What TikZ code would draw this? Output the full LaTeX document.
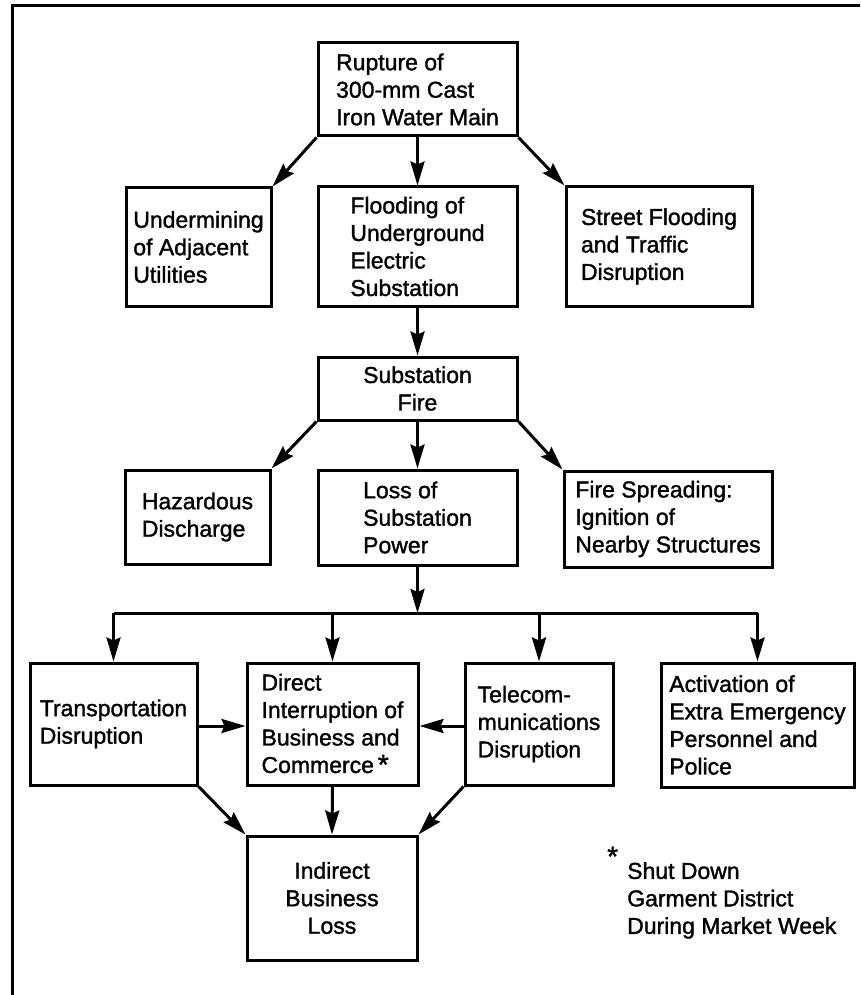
\documentclass[tikz,border=0pt]{standalone}
\usepackage{fontspec}
\setmainfont{Liberation Sans}[UprightFeatures={FakeBold=1.4}]
\usetikzlibrary{arrows.meta}
\begin{document}
\begin{tikzpicture}[x=1pt,y=-1pt,
  txt/.style={font=\fontsize{23}{27.5}\selectfont},
  box/.style={draw, line width=3pt, inner sep=0pt, align=left, txt},
  arr/.style={line width=3pt, -{Stealth[length=24pt,width=14pt,inset=3pt]}},
  ln/.style={line width=3pt},
  frame/.style={line width=3.4pt}]
\useasboundingbox (0,0) rectangle (860,995);
\draw[frame] (12.5,995) -- (12.5,5.5) -- (860,5.5);

% row 1
\node[box, minimum width=199pt, minimum height=93pt] (rup) at (417.5,89.5) {Rupture of\\300-mm Cast\\Iron Water Main};
% row 2
\node[box, minimum width=145pt, minimum height=118pt] (und) at (198.5,247) {Undermining\\of Adjacent\\Utilities};
\node[box, minimum width=199pt, minimum height=119pt] (flo) at (417.5,246.5) {Flooding of\\Underground\\Electric\\Substation};
\node[box, minimum width=186pt, minimum height=119pt] (str) at (659,246.5) {Street Flooding\\and Traffic\\Disruption};
% row 3
\node[box, align=center, minimum width=199pt, minimum height=63pt] (fire) at (417.5,388.5) {Substation\\Fire};
% row 4
\node[box, minimum width=145pt, minimum height=94pt] (haz) at (197.5,517) {Hazardous\\Discharge};
\node[box, minimum width=199pt, minimum height=95pt] (loss) at (417.5,517.5) {Loss of\\Substation\\Power};
\node[box, minimum width=208pt, minimum height=96pt] (spr) at (668,519) {Fire Spreading:\\Ignition of\\Nearby Structures};
% row 5
\node[box, minimum width=167pt, minimum height=122pt] (tra) at (113.5,724) {Transportation\\Disruption};
\node[box, minimum width=171pt, minimum height=122pt] (dir) at (332.5,724) {Direct\\Interruption of\\Business and\\Commerce\,\raisebox{-0.1ex}{\fontsize{28}{28}\selectfont *}};
\node[box, minimum width=148pt, minimum height=122pt] (tel) at (539,724) {Telecom-\\munications\\Disruption};
\node[box, minimum width=193pt, minimum height=124pt] (act) at (757.5,725) {Activation of\\Extra Emergency\\Personnel and\\Police};
% row 6
\node[box, align=center, minimum width=170pt, minimum height=124pt] (ind) at (332,898) {Indirect\\Business\\Loss};

% footnote
\node[anchor=base west, inner sep=0pt, font=\fontsize{28}{28}\selectfont] (star) at (607,866) {*};
\node[txt, anchor=north west, inner sep=0pt, align=left] (note) at (627,862) {Shut Down\\Garment District\\During Market Week};

% connectors
\draw[arr] (rup.south west) -- (und.north east);
\draw[arr] (rup.south) -- (flo.north);
\draw[arr] (rup.south east) -- (str.north west);
\draw[arr] (flo.south) -- (fire.north);
\draw[arr] (fire.south west) -- (haz.north east);
\draw[arr] (fire.south) -- (loss.north);
\draw[arr] (fire.south east) -- (spr.north west);

\coordinate (bus) at (417.5,613);
\draw[arr] (loss.south) -- (bus);
\draw[ln] (tra.north |- bus) -- (act.north |- bus);
\draw[arr] (tra.north |- bus) -- (tra.north);
\draw[arr] (dir.north |- bus) -- (dir.north);
\draw[arr] (tel.north |- bus) -- (tel.north);
\draw[arr] (act.north |- bus) -- (act.north);

\draw[arr] ([yshift=-2pt]tra.east) -- ([yshift=-2pt]dir.west);
\draw[arr] ([yshift=-2pt]tel.west) -- ([yshift=-2pt]dir.east);
\draw[arr] (tra.south east) -- (ind.north west);
\draw[arr] (dir.south) -- (ind.north);
\draw[arr] (tel.south west) -- (ind.north east);
\end{tikzpicture}
\end{document}
